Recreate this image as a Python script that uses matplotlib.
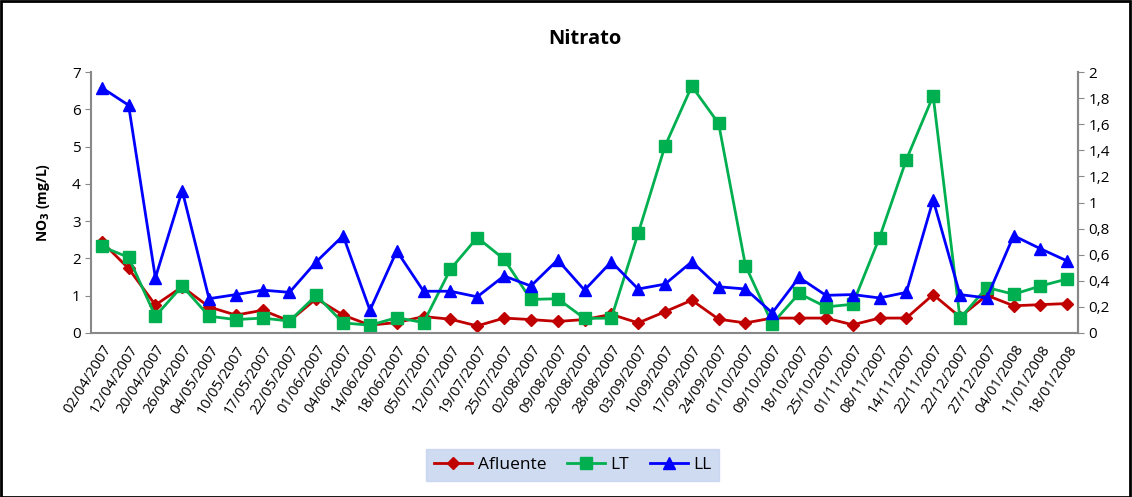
import matplotlib
matplotlib.use('Agg')
import matplotlib.pyplot as plt
from matplotlib.ticker import FuncFormatter
from matplotlib.lines import Line2D
from matplotlib.patches import Rectangle

# Data (NO3 mg/L)
dates = ['02/04/2007', '12/04/2007', '20/04/2007', '26/04/2007', '04/05/2007',
         '10/05/2007', '17/05/2007', '22/05/2007', '01/06/2007', '04/06/2007',
         '14/06/2007', '18/06/2007', '05/07/2007', '12/07/2007', '19/07/2007',
         '25/07/2007', '02/08/2007', '09/08/2007', '20/08/2007', '28/08/2007',
         '03/09/2007', '10/09/2007', '17/09/2007', '24/09/2007', '01/10/2007',
         '09/10/2007', '18/10/2007', '25/10/2007', '01/11/2007', '08/11/2007',
         '14/11/2007', '22/11/2007', '22/12/2007', '27/12/2007', '04/01/2008',
         '11/01/2008', '18/01/2008']

afluente = [2.45, 1.73, 0.75, 1.24, 0.70, 0.48, 0.61, 0.32, 0.92, 0.48,
            0.21, 0.28, 0.44, 0.37, 0.19, 0.40, 0.36, 0.31, 0.36, 0.50,
            0.27, 0.57, 0.88, 0.37, 0.27, 0.40, 0.40, 0.40, 0.22, 0.40,
            0.40, 1.03, 0.43, 1.01, 0.73, 0.76, 0.79]

lt = [2.32, 2.03, 0.45, 1.26, 0.45, 0.36, 0.40, 0.32, 1.01, 0.27,
      0.21, 0.41, 0.28, 1.71, 2.56, 1.98, 0.90, 0.92, 0.39, 0.40,
      2.67, 5.01, 6.62, 5.62, 1.81, 0.25, 1.06, 0.70, 0.77, 2.56,
      4.65, 6.36, 0.39, 1.22, 1.04, 1.26, 1.45]

ll = [6.58, 6.11, 1.48, 3.82, 0.92, 1.03, 1.15, 1.09, 1.91, 2.61,
      0.61, 2.20, 1.12, 1.12, 0.97, 1.53, 1.26, 1.96, 1.15, 1.91,
      1.18, 1.31, 1.91, 1.24, 1.18, 0.54, 1.49, 1.01, 1.03, 0.94,
      1.09, 3.57, 1.03, 0.94, 2.61, 2.26, 1.93]

plt.rcParams['font.family'] = ['Open Sans', 'DejaVu Sans']

fig = plt.figure(figsize=(11.32, 4.97), dpi=100)
ax = fig.add_axes([0.0804, 0.330, 0.8719, 0.5251])

x = range(len(dates))
ax.plot(x, afluente, color='#C00000', lw=2, marker='D', ms=6, label='Afluente')
ax.plot(x, lt, color='#00B050', lw=2, marker='s', ms=8, label='LT')
ax.plot(x, ll, color='#0000FF', lw=2, marker='^', ms=9, label='LL')

ax.set_xlim(-0.4, len(dates) - 0.6)
ax.set_ylim(0, 7)
ax.set_yticks(range(0, 8))
ax.set_xticks(list(x))
ax.set_xticklabels(dates, rotation=58, ha='right', rotation_mode='anchor', fontsize=10.5)
ax.tick_params(axis='y', labelsize=11, length=4, color='#888888')
ax.tick_params(axis='x', length=0, pad=7)
ax.spines['top'].set_visible(False)
for s in ['left', 'bottom', 'right']:
    ax.spines[s].set_color('#888888')
    ax.spines[s].set_linewidth(1.5)

ax.set_ylabel('NO$_\\mathbf{3}$ (mg/L)', fontsize=10, fontweight='bold', labelpad=14)
ax.set_title('Nitrato', fontsize=14.5, fontweight='bold', pad=20)

# secondary scale on the right
ax2 = ax.twinx()
ax2.set_ylim(0, 2)
ax2.set_yticks([i * 0.2 for i in range(11)])
ax2.yaxis.set_major_formatter(FuncFormatter(lambda v, p: ('%g' % round(v, 1)).replace('.', ',')))
ax2.tick_params(axis='y', labelsize=11, length=4, color='#888888')
for s in ['top', 'left', 'bottom']:
    ax2.spines[s].set_visible(False)
ax2.spines['right'].set_color('#888888')
ax2.spines['right'].set_linewidth(1.5)

handles = [Line2D([], [], color='#C00000', lw=2, marker='D', ms=6),
           Line2D([], [], color='#00B050', lw=2, marker='s', ms=8),
           Line2D([], [], color='#0000FF', lw=2, marker='^', ms=9)]
leg = fig.legend(handles, ['Afluente', 'LT', 'LL'], loc='center', ncol=3,
                 bbox_to_anchor=(0.506, 0.064), fontsize=12.5, frameon=True,
                 fancybox=False, handlelength=2.2, columnspacing=1.2,
                 handletextpad=0.3, borderpad=0.45, borderaxespad=0)
leg.get_frame().set_facecolor('#c4d2ee')
leg.get_frame().set_edgecolor('#c4d2ee')

# outer chart border
fig.patches.append(Rectangle((0.001, 0.001), 0.997, 0.996, transform=fig.transFigure,
                             fill=False, edgecolor='black', lw=2))

fig.savefig('out.png', dpi=100)
